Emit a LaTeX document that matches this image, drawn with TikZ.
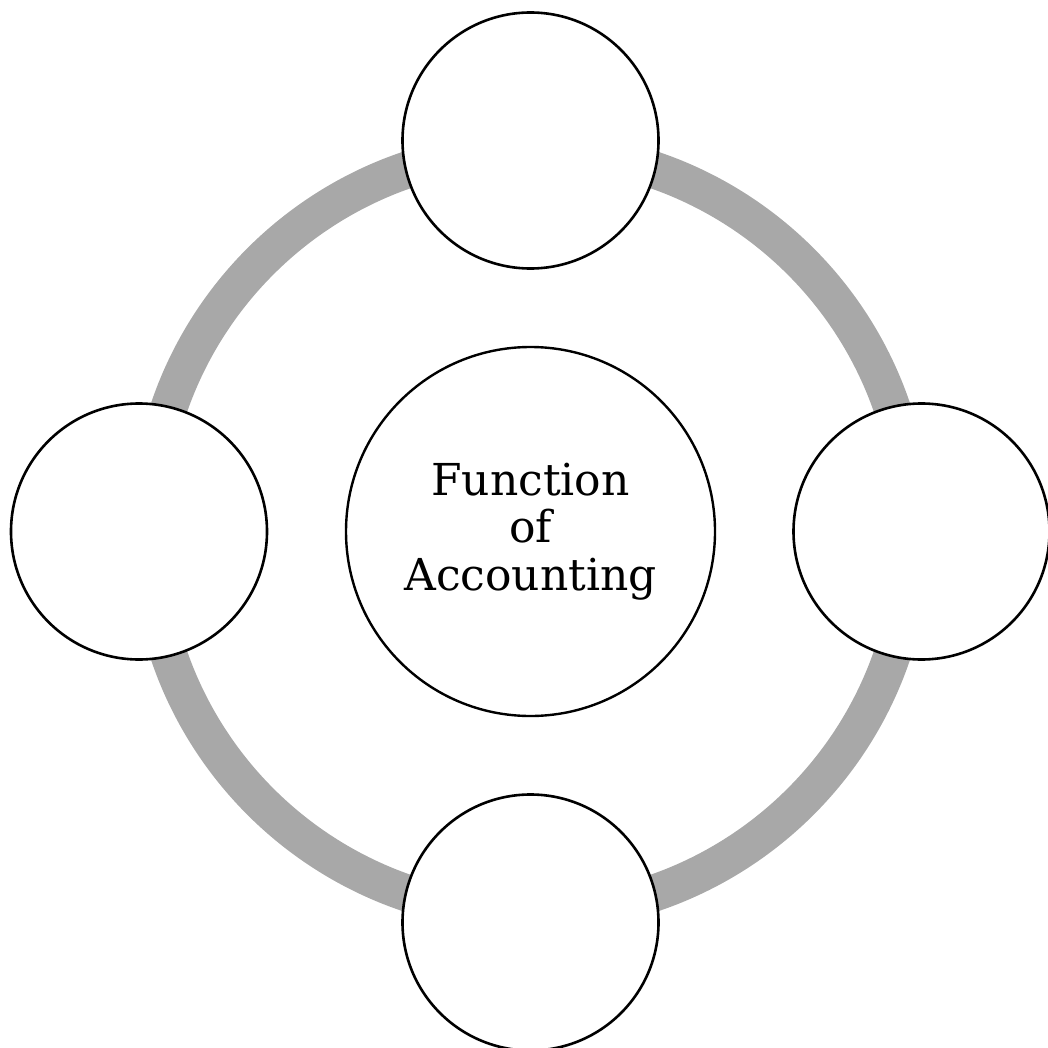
\documentclass[tikz,border=0pt]{standalone}
\usepackage{fontspec}
\setmainfont{DejaVu Serif}
\definecolor{ringgray}{RGB}{168,168,168}
\begin{document}
\begin{tikzpicture}[x=1pt,y=-1pt,
  outer/.style={circle,draw=black,fill=white,line width=2.6pt,minimum size=256pt,inner sep=0pt},
  hub/.style={circle,draw=black,fill=white,line width=2.4pt,minimum size=369pt,inner sep=0pt,align=center,font=\fontsize{44}{47.5}\selectfont}]
\useasboundingbox (0,0) rectangle (1048,1048);
\coordinate (c) at (530.5,531.5);
\draw[ringgray,line width=37pt] (c) circle (382pt);
\node[hub] (center) at (c) {Function\\of\\Accounting};
\node[outer] (top) at (530.5,140.5) {};
\node[outer] (right) at (921.5,531.5) {};
\node[outer] (bottom) at (530.5,922.5) {};
\node[outer] (left) at (139,531.5) {};
\end{tikzpicture}
\end{document}
